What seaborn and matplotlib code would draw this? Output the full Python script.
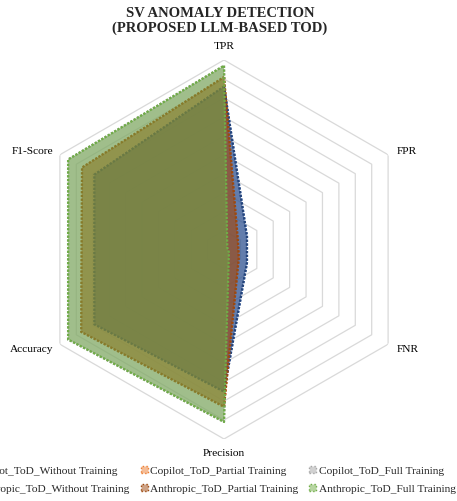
import numpy as np
import seaborn as sns
import matplotlib.pyplot as plt
from matplotlib.patches import Patch
from matplotlib.colors import to_rgba

# axes of the radar, clockwise from the top
metrics = ["TPR", "FPR", "FNR", "Precision", "Accuracy", "F1-Score"]

series_names = [
    "Copilot_ToD_Without Training",
    "Copilot_ToD_Partial Training",
    "Copilot_ToD_Full Training",
    "Anthropic_ToD_Without Training",
    "Anthropic_ToD_Partial Training",
    "Anthropic_ToD_Full Training",
]

copilot_without = [0.86, 0.14, 0.14, 0.75, 0.79, 0.79]
copilot_partial = [0.91, 0.085, 0.09, 0.83, 0.87, 0.865]
copilot_full = [0.97, 0.02, 0.03, 0.91, 0.95, 0.95]
anthropic_without = [0.86, 0.14, 0.14, 0.75, 0.79, 0.79]
anthropic_partial = [0.91, 0.085, 0.09, 0.83, 0.87, 0.865]
anthropic_full = [0.97, 0.02, 0.03, 0.91, 0.95, 0.95]

series_values = [copilot_without, copilot_partial, copilot_full,
                 anthropic_without, anthropic_partial, anthropic_full]
colors = ["#4472C4", "#ED7D31", "#A5A5A5", "#264478", "#9E480E", "#70AD47"]

sns.set_theme(style="white")
plt.rcParams["font.family"] = ["Liberation Serif", "DejaVu Serif"]

fig = plt.figure(figsize=(4.57, 5.02), dpi=100)
ax = fig.add_axes([0.0755, 0.1235, 0.8293, 0.755], projection="polar")
ax.set_theta_zero_location("N")
ax.set_theta_direction(-1)

theta = np.linspace(0, 2 * np.pi, len(metrics), endpoint=False)
theta_closed = np.append(theta, theta[0])

# hexagonal gridlines like excel
for level in np.arange(0.1, 1.01, 0.1):
    ax.plot(theta_closed, [level] * len(theta_closed), color="#D9D9D9", lw=0.9, zorder=0)

for i, (vals, col) in enumerate(zip(series_values, colors)):
    r = np.append(vals, vals[0])
    ax.fill(theta_closed, r, color=col, alpha=0.5, lw=0, zorder=2 + 2 * i)
    sns.lineplot(x=theta_closed, y=r, sort=False, estimator=None, color=col,
                 lw=1.6, linestyle=(0, (1, 0.7)), ax=ax, zorder=3 + 2 * i)

ax.set_ylim(0, 1)
ax.grid(False)
ax.set_xticks([])
ax.set_yticks([])
ax.set_xlabel("")
ax.set_ylabel("")
ax.spines["polar"].set_visible(False)

# metric labels
label_pos = [(1.074, "center"), (1.05, "left"), (1.05, "left"),
             (1.069, "center"), (1.04, "right"), (1.04, "right")]
for t, name, (rad, ha) in zip(theta, metrics, label_pos):
    ax.text(t, rad, name, ha=ha, va="center", fontsize=8.2, color="#000000")

fig.text(0.481, 0.986, "SV ANOMALY DETECTION\n(PROPOSED LLM-BASED TOD)",
         ha="center", va="top", fontsize=10.5, fontweight="bold", linespacing=1.1)

handles = [Patch(facecolor=to_rgba(c, 0.5), edgecolor=c, linestyle=":", lw=1) for c in colors]
order = [0, 3, 1, 4, 2, 5]
fig.legend([handles[i] for i in order], [series_names[i] for i in order],
           loc="center", bbox_to_anchor=(0.46, 0.043), ncol=3, frameon=False,
           fontsize=8.2, handlelength=0.6, handleheight=0.6, handletextpad=0.2,
           columnspacing=1.0, labelspacing=0.75, borderpad=0)

fig.savefig("out.png", dpi=100)
